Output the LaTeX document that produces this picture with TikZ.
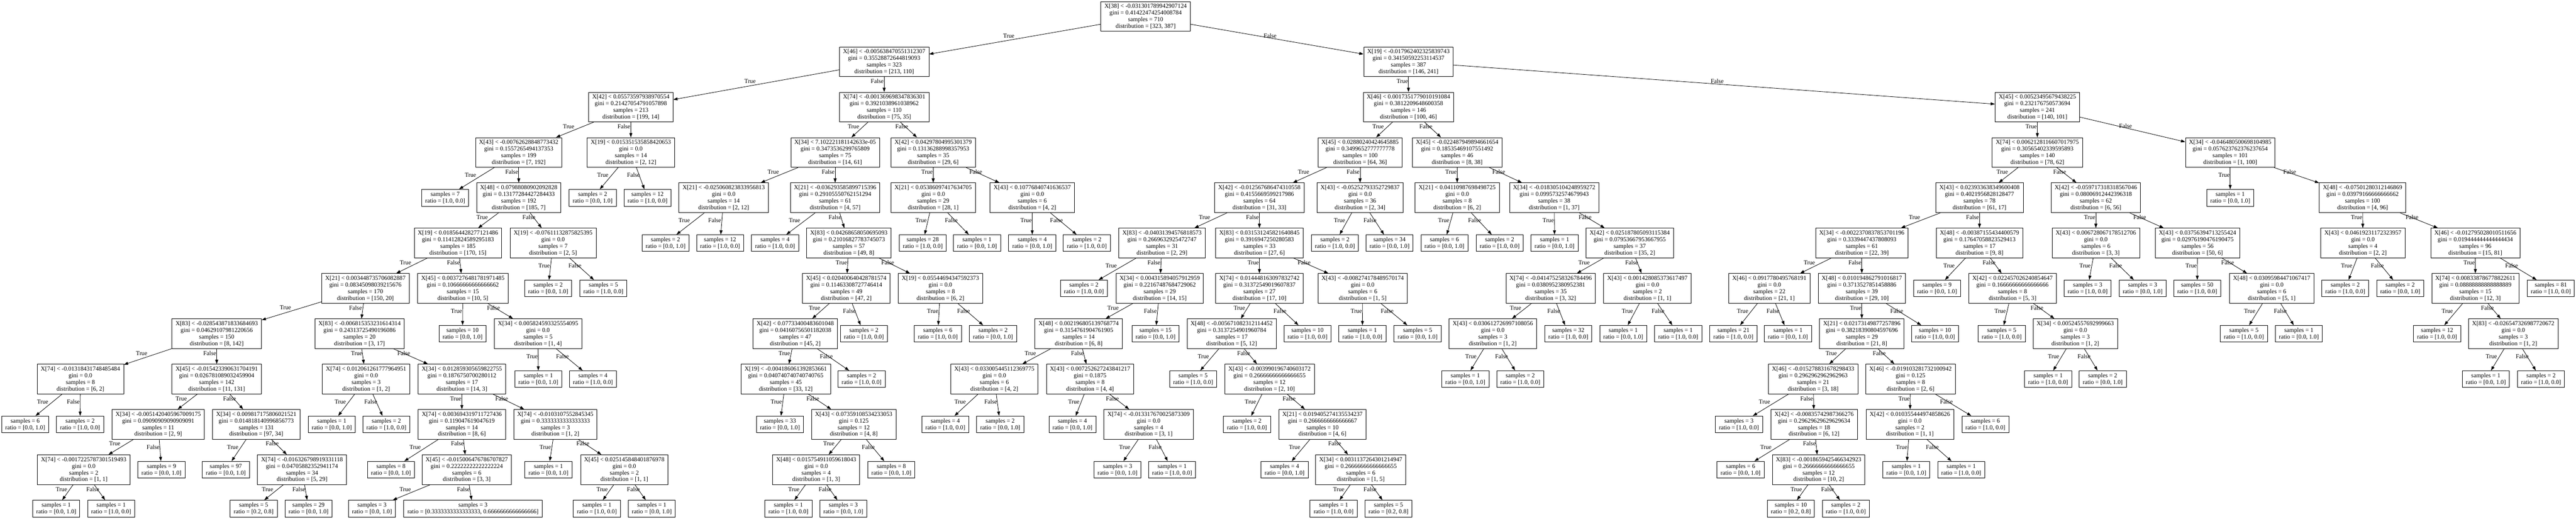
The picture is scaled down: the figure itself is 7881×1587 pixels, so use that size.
\documentclass[tikz,border=0pt]{standalone}
\usepackage{fontspec}
\setmainfont{Liberation Serif}
\usetikzlibrary{arrows.meta}

\begin{document}
\begin{tikzpicture}[x=1pt, y=-1pt,
    font=\fontsize{18.6}{20.3}\selectfont,
    splitnode/.style={rectangle, draw, line width=1.3pt, align=center, inner xsep=11pt, minimum height=91pt},
    leafnode/.style={rectangle, draw, line width=1.3pt, align=center, inner xsep=11pt, minimum height=51pt},
    branch/.style={-{Triangle[length=13pt, width=9pt]}, line width=1.3pt},
    cond/.style={midway, anchor=south east, inner xsep=1pt, inner ysep=3pt}]
    \fill[white] (0,0) rectangle (7881,1587);
    \useasboundingbox (0,0) rectangle (7881,1587);

    % Level 0
    \node[splitnode] (split_0) at (3505,50.5) {X[38] < -0.031301789942907124\\gini = 0.41422474254008784\\samples = 710\\distribution = [323, 387]};

    % Level 1
    \node[splitnode] (split_1) at (2705,189.1) {X[46] < -0.005638470551312307\\gini = 0.35528872644819093\\samples = 323\\distribution = [213, 110]};
    \node[splitnode] (split_2) at (4309,189.1) {X[19] < -0.017962402325839743\\gini = 0.34150592253114537\\samples = 387\\distribution = [146, 241]};

    % Level 2
    \node[splitnode] (split_3) at (1930,327.7) {X[42] < 0.05573597938970554\\gini = 0.21427054791057898\\samples = 213\\distribution = [199, 14]};
    \node[splitnode] (split_4) at (2705,327.7) {X[74] < -0.001369698347836301\\gini = 0.3921038961038962\\samples = 110\\distribution = [75, 35]};
    \node[splitnode] (split_41) at (4309,327.7) {X[46] < 0.0017351779010191084\\gini = 0.3812209648600358\\samples = 146\\distribution = [100, 46]};
    \node[splitnode] (split_42) at (6233,327.7) {X[45] < 0.00523495679438225\\gini = 0.232176750573694\\samples = 241\\distribution = [140, 101]};

    % Level 3
    \node[splitnode] (split_5) at (1587,466.3) {X[43] < -0.00762628848773432\\gini = 0.1557265494137353\\samples = 199\\distribution = [7, 192]};
    \node[splitnode] (split_6) at (1930,466.3) {X[19] < 0.015351535858420653\\gini = 0.0\\samples = 14\\distribution = [2, 12]};
    \node[splitnode] (split_28) at (2555,466.3) {X[34] < 7.102221181142633e-05\\gini = 0.3473536299765809\\samples = 75\\distribution = [14, 61]};
    \node[splitnode] (split_29) at (2855,466.3) {X[42] < 0.04297804995301379\\gini = 0.13136288998357953\\samples = 35\\distribution = [29, 6]};
    \node[splitnode] (split_43) at (4161,466.3) {X[45] < 0.02880240424645885\\gini = 0.3499652777777778\\samples = 100\\distribution = [64, 36]};
    \node[splitnode] (split_44) at (4458,466.3) {X[45] < -0.022487949894661654\\gini = 0.18535469107551492\\samples = 46\\distribution = [8, 38]};
    \node[splitnode] (split_66) at (6233,466.3) {X[74] < 0.0062128116607017975\\gini = 0.30565402339595893\\samples = 140\\distribution = [78, 62]};
    \node[splitnode] (split_67) at (6823,466.3) {X[34] < -0.046480500698104985\\gini = 0.057623762376237654\\samples = 101\\distribution = [1, 100]};

    % Level 4
    \node[leafnode] (leaf_5_t) at (1362,604.9) {samples = 7\\ratio = [1.0, 0.0]};
    \node[splitnode] (split_8) at (1587,604.9) {X[48] < 0.07988080902092828\\gini = 0.13177284427284433\\samples = 192\\distribution = [185, 7]};
    \node[leafnode] (leaf_6_t) at (1813,604.9) {samples = 2\\ratio = [0.0, 1.0]};
    \node[leafnode] (leaf_6_f) at (1981,604.9) {samples = 12\\ratio = [1.0, 0.0]};
    \node[splitnode] (split_30) at (2214,604.9) {X[21] < -0.025060823833956813\\gini = 0.0\\samples = 14\\distribution = [2, 12]};
    \node[splitnode] (split_31) at (2555,604.9) {X[21] < -0.036293585899715396\\gini = 0.29105550762151294\\samples = 61\\distribution = [4, 57]};
    \node[splitnode] (split_32) at (2855,604.9) {X[21] < 0.05386097417634705\\gini = 0.0\\samples = 29\\distribution = [28, 1]};
    \node[splitnode] (split_33) at (3158,604.9) {X[43] < 0.10776840741636537\\gini = 0.0\\samples = 6\\distribution = [4, 2]};
    \node[splitnode] (split_45) at (3853,604.9) {X[42] < -0.012567686474310558\\gini = 0.4155669599217986\\samples = 64\\distribution = [31, 33]};
    \node[splitnode] (split_46) at (4161,604.9) {X[43] < -0.05252793352729837\\gini = 0.0\\samples = 36\\distribution = [2, 34]};
    \node[splitnode] (split_47) at (4458,604.9) {X[21] < 0.04110987698498725\\gini = 0.0\\samples = 8\\distribution = [6, 2]};
    \node[splitnode] (split_48) at (4755,604.9) {X[34] < -0.018305104248959272\\gini = 0.0995732574679943\\samples = 38\\distribution = [1, 37]};
    \node[splitnode] (split_68) at (6056,604.9) {X[43] < 0.023933638349600408\\gini = 0.4021956828128477\\samples = 78\\distribution = [61, 17]};
    \node[splitnode] (split_69) at (6412,604.9) {X[42] < -0.059717318318567046\\gini = 0.08006912442396318\\samples = 62\\distribution = [6, 56]};
    \node[leafnode] (leaf_67_t) at (6823,604.9) {samples = 1\\ratio = [0.0, 1.0]};
    \node[splitnode] (split_70) at (7228,604.9) {X[48] < -0.07501280312146869\\gini = 0.03979166666666662\\samples = 100\\distribution = [4, 96]};

    % Level 5
    \node[splitnode] (split_9) at (1401,743.5) {X[19] < 0.018564428277121486\\gini = 0.11412824589295183\\samples = 185\\distribution = [170, 15]};
    \node[splitnode] (split_10) at (1692,743.5) {X[19] < -0.07611132875825395\\gini = 0.0\\samples = 7\\distribution = [2, 5]};
    \node[leafnode] (leaf_30_t) at (2036,743.5) {samples = 2\\ratio = [0.0, 1.0]};
    \node[leafnode] (leaf_30_f) at (2203,743.5) {samples = 12\\ratio = [1.0, 0.0]};
    \node[leafnode] (leaf_31_t) at (2371,743.5) {samples = 4\\ratio = [1.0, 0.0]};
    \node[splitnode] (split_34) at (2597,743.5) {X[83] < 0.04268658050695093\\gini = 0.21016827783745073\\samples = 57\\distribution = [49, 8]};
    \node[leafnode] (leaf_32_t) at (2823,743.5) {samples = 28\\ratio = [1.0, 0.0]};
    \node[leafnode] (leaf_32_f) at (2989,743.5) {samples = 1\\ratio = [0.0, 1.0]};
    \node[leafnode] (leaf_33_t) at (3158,743.5) {samples = 4\\ratio = [0.0, 1.0]};
    \node[leafnode] (leaf_33_f) at (3325,743.5) {samples = 2\\ratio = [1.0, 0.0]};
    \node[splitnode] (split_49) at (3555,743.5) {X[83] < -0.04031394576818573\\gini = 0.2669632925472747\\samples = 31\\distribution = [2, 29]};
    \node[splitnode] (split_50) at (3853,743.5) {X[83] < 0.031531245821640845\\gini = 0.3916947250280583\\samples = 33\\distribution = [27, 6]};
    \node[leafnode] (leaf_46_t) at (4084,743.5) {samples = 2\\ratio = [1.0, 0.0]};
    \node[leafnode] (leaf_46_f) at (4251,743.5) {samples = 34\\ratio = [0.0, 1.0]};
    \node[leafnode] (leaf_47_t) at (4419,743.5) {samples = 6\\ratio = [0.0, 1.0]};
    \node[leafnode] (leaf_47_f) at (4588,743.5) {samples = 2\\ratio = [1.0, 0.0]};
    \node[leafnode] (leaf_48_t) at (4756,743.5) {samples = 1\\ratio = [0.0, 1.0]};
    \node[splitnode] (split_51) at (4986,743.5) {X[42] < 0.025187805093115384\\gini = 0.07953667953667955\\samples = 37\\distribution = [35, 2]};
    \node[splitnode] (split_71) at (5696,743.5) {X[34] < -0.0022370837853701196\\gini = 0.3339447437808093\\samples = 61\\distribution = [22, 39]};
    \node[splitnode] (split_72) at (6056,743.5) {X[48] < -0.00387155434400579\\gini = 0.17647058823529413\\samples = 17\\distribution = [9, 8]};
    \node[splitnode] (split_73) at (6412,743.5) {X[43] < 0.006728067178512706\\gini = 0.0\\samples = 6\\distribution = [3, 3]};
    \node[splitnode] (split_74) at (6723,743.5) {X[43] < 0.03756394713255424\\gini = 0.02976190476190475\\samples = 56\\distribution = [50, 6]};
    \node[splitnode] (split_75) at (7229,743.5) {X[43] < 0.04619231172323957\\gini = 0.0\\samples = 4\\distribution = [2, 2]};
    \node[splitnode] (split_76) at (7573,743.5) {X[46] < -0.012795028010511656\\gini = 0.019444444444444434\\samples = 96\\distribution = [15, 81]};

    % Level 6
    \node[splitnode] (split_11) at (1118,882.1) {X[21] < 0.003448735706082887\\gini = 0.08345098039215676\\samples = 170\\distribution = [150, 20]};
    \node[splitnode] (split_12) at (1416,882.1) {X[45] < 0.0037276481781971485\\gini = 0.10666666666666662\\samples = 15\\distribution = [10, 5]};
    \node[leafnode] (leaf_10_t) at (1677,882.1) {samples = 2\\ratio = [0.0, 1.0]};
    \node[leafnode] (leaf_10_f) at (1846,882.1) {samples = 5\\ratio = [1.0, 0.0]};
    \node[splitnode] (split_35) at (2589,882.1) {X[45] < 0.020400640428781574\\gini = 0.11463308727746414\\samples = 49\\distribution = [47, 2]};
    \node[splitnode] (split_36) at (2877,882.1) {X[19] < 0.05544694347592373\\gini = 0.0\\samples = 8\\distribution = [6, 2]};
    \node[leafnode] (leaf_49_t) at (3316,882.1) {samples = 2\\ratio = [1.0, 0.0]};
    \node[splitnode] (split_52) at (3548,882.1) {X[34] < 0.004315894057912959\\gini = 0.22167487684729062\\samples = 29\\distribution = [14, 15]};
    \node[splitnode] (split_53) at (3853,882.1) {X[74] < 0.014448163097832742\\gini = 0.31372549019607837\\samples = 27\\distribution = [17, 10]};
    \node[splitnode] (split_54) at (4169,882.1) {X[43] < -0.008274178489570174\\gini = 0.0\\samples = 6\\distribution = [1, 5]};
    \node[splitnode] (split_55) at (4744,882.1) {X[74] < -0.041475258326784496\\gini = 0.0380952380952381\\samples = 35\\distribution = [3, 32]};
    \node[splitnode] (split_56) at (5040,882.1) {X[43] < 0.001428085373617497\\gini = 0.0\\samples = 2\\distribution = [1, 1]};
    \node[splitnode] (split_77) at (5413,882.1) {X[46] < 0.0917780495768191\\gini = 0.0\\samples = 22\\distribution = [21, 1]};
    \node[splitnode] (split_78) at (5696,882.1) {X[48] < 0.010194862791016817\\gini = 0.3713527851458886\\samples = 39\\distribution = [29, 10]};
    \node[leafnode] (leaf_72_t) at (5926,882.1) {samples = 9\\ratio = [0.0, 1.0]};
    \node[splitnode] (split_79) at (6157,882.1) {X[42] < 0.022457026240854647\\gini = 0.16666666666666666\\samples = 8\\distribution = [5, 3]};
    \node[leafnode] (leaf_73_t) at (6387,882.1) {samples = 3\\ratio = [1.0, 0.0]};
    \node[leafnode] (leaf_73_f) at (6555,882.1) {samples = 3\\ratio = [0.0, 1.0]};
    \node[leafnode] (leaf_74_t) at (6722,882.1) {samples = 50\\ratio = [1.0, 0.0]};
    \node[splitnode] (split_80) at (6950,882.1) {X[48] < 0.03095984471067417\\gini = 0.0\\samples = 6\\distribution = [5, 1]};
    \node[leafnode] (leaf_75_t) at (7175,882.1) {samples = 2\\ratio = [1.0, 0.0]};
    \node[leafnode] (leaf_75_f) at (7343,882.1) {samples = 2\\ratio = [0.0, 1.0]};
    \node[splitnode] (split_81) at (7573,882.1) {X[74] < 0.008338786778822611\\gini = 0.08888888888888889\\samples = 15\\distribution = [12, 3]};
    \node[leafnode] (leaf_76_f) at (7804,882.1) {samples = 81\\ratio = [1.0, 0.0]};

    % Level 7
    \node[splitnode] (split_13) at (663,1020.7) {X[83] < -0.028543871833684693\\gini = 0.04629107981220656\\samples = 150\\distribution = [8, 142]};
    \node[splitnode] (split_14) at (1100,1020.7) {X[83] < -0.006815353231614314\\gini = 0.24313725490196086\\samples = 20\\distribution = [3, 17]};
    \node[leafnode] (leaf_12_t) at (1415,1020.7) {samples = 10\\ratio = [0.0, 1.0]};
    \node[splitnode] (split_15) at (1646,1020.7) {X[34] < 0.005824593325554095\\gini = 0.0\\samples = 5\\distribution = [1, 4]};
    \node[splitnode] (split_37) at (2433,1020.7) {X[42] < 0.07733400483601048\\gini = 0.04160756501182038\\samples = 47\\distribution = [45, 2]};
    \node[leafnode] (leaf_35_f) at (2643,1020.7) {samples = 2\\ratio = [1.0, 0.0]};
    \node[leafnode] (leaf_36_t) at (2869,1020.7) {samples = 6\\ratio = [1.0, 0.0]};
    \node[leafnode] (leaf_36_f) at (3038,1020.7) {samples = 2\\ratio = [0.0, 1.0]};
    \node[splitnode] (split_57) at (3300,1020.7) {X[48] < 0.002196805139768774\\gini = 0.3154761904761905\\samples = 14\\distribution = [6, 8]};
    \node[leafnode] (leaf_52_f) at (3535,1020.7) {samples = 15\\ratio = [0.0, 1.0]};
    \node[splitnode] (split_58) at (3768,1020.7) {X[48] < -0.005671082312114452\\gini = 0.3137254901960784\\samples = 17\\distribution = [5, 12]};
    \node[leafnode] (leaf_53_f) at (4000,1020.7) {samples = 10\\ratio = [1.0, 0.0]};
    \node[leafnode] (leaf_54_t) at (4168,1020.7) {samples = 1\\ratio = [1.0, 0.0]};
    \node[leafnode] (leaf_54_f) at (4337,1020.7) {samples = 5\\ratio = [0.0, 1.0]};
    \node[splitnode] (split_59) at (4567,1020.7) {X[43] < 0.030612726997108056\\gini = 0.0\\samples = 3\\distribution = [1, 2]};
    \node[leafnode] (leaf_55_f) at (4798,1020.7) {samples = 32\\ratio = [1.0, 0.0]};
    \node[leafnode] (leaf_56_t) at (4966,1020.7) {samples = 1\\ratio = [0.0, 1.0]};
    \node[leafnode] (leaf_56_f) at (5134,1020.7) {samples = 1\\ratio = [1.0, 0.0]};
    \node[leafnode] (leaf_77_t) at (5303,1020.7) {samples = 21\\ratio = [1.0, 0.0]};
    \node[leafnode] (leaf_77_f) at (5470,1020.7) {samples = 1\\ratio = [0.0, 1.0]};
    \node[splitnode] (split_82) at (5696,1020.7) {X[21] < 0.02173149877257896\\gini = 0.38218390804597696\\samples = 29\\distribution = [21, 8]};
    \node[leafnode] (leaf_78_f) at (5920,1020.7) {samples = 10\\ratio = [1.0, 0.0]};
    \node[leafnode] (leaf_79_t) at (6124,1020.7) {samples = 5\\ratio = [1.0, 0.0]};
    \node[splitnode] (split_83) at (6349,1020.7) {X[34] < 0.00524557692999663\\gini = 0.0\\samples = 3\\distribution = [1, 2]};
    \node[leafnode] (leaf_80_t) at (6865,1020.7) {samples = 5\\ratio = [1.0, 0.0]};
    \node[leafnode] (leaf_80_f) at (7033,1020.7) {samples = 1\\ratio = [0.0, 1.0]};
    \node[leafnode] (leaf_81_t) at (7456,1020.7) {samples = 12\\ratio = [1.0, 0.0]};
    \node[splitnode] (split_84) at (7689,1020.7) {X[83] < -0.026547326987720672\\gini = 0.0\\samples = 3\\distribution = [1, 2]};

    % Level 8
    \node[splitnode] (split_16) at (246,1159.3) {X[74] < -0.01318431748485484\\gini = 0.0\\samples = 8\\distribution = [6, 2]};
    \node[splitnode] (split_17) at (663,1159.3) {X[45] < -0.015423390631704191\\gini = 0.026781089032459904\\samples = 142\\distribution = [11, 131]};
    \node[splitnode] (split_18) at (1120,1159.3) {X[74] < 0.012061261777964951\\gini = 0.0\\samples = 3\\distribution = [1, 2]};
    \node[splitnode] (split_19) at (1413,1159.3) {X[34] < 0.012859305659822755\\gini = 0.1876750700280112\\samples = 17\\distribution = [14, 3]};
    \node[leafnode] (leaf_15_t) at (1647,1159.3) {samples = 1\\ratio = [0.0, 1.0]};
    \node[leafnode] (leaf_15_f) at (1814,1159.3) {samples = 4\\ratio = [1.0, 0.0]};
    \node[splitnode] (split_38) at (2404,1159.3) {X[19] < -0.004186061392853661\\gini = 0.040740740740740765\\samples = 45\\distribution = [33, 12]};
    \node[leafnode] (leaf_37_f) at (2636,1159.3) {samples = 2\\ratio = [1.0, 0.0]};
    \node[splitnode] (split_60) at (3042,1159.3) {X[43] < 0.033005445112369775\\gini = 0.0\\samples = 6\\distribution = [4, 2]};
    \node[splitnode] (split_61) at (3335,1159.3) {X[43] < 0.007252627243841217\\gini = 0.1875\\samples = 8\\distribution = [4, 4]};
    \node[leafnode] (leaf_58_t) at (3650,1159.3) {samples = 5\\ratio = [1.0, 0.0]};
    \node[splitnode] (split_62) at (3884,1159.3) {X[43] < -0.003990196740603172\\gini = 0.26666666666666655\\samples = 12\\distribution = [2, 10]};
    \node[leafnode] (leaf_59_t) at (4483,1159.3) {samples = 1\\ratio = [0.0, 1.0]};
    \node[leafnode] (leaf_59_f) at (4651,1159.3) {samples = 2\\ratio = [1.0, 0.0]};
    \node[splitnode] (split_85) at (5547,1159.3) {X[46] < -0.015278831678298433\\gini = 0.2962962962962963\\samples = 21\\distribution = [3, 18]};
    \node[splitnode] (split_86) at (5845,1159.3) {X[46] < -0.019103281732100942\\gini = 0.125\\samples = 8\\distribution = [2, 6]};
    \node[leafnode] (leaf_83_t) at (6266,1159.3) {samples = 1\\ratio = [1.0, 0.0]};
    \node[leafnode] (leaf_83_f) at (6433,1159.3) {samples = 2\\ratio = [0.0, 1.0]};
    \node[leafnode] (leaf_84_t) at (7605,1159.3) {samples = 1\\ratio = [0.0, 1.0]};
    \node[leafnode] (leaf_84_f) at (7774,1159.3) {samples = 2\\ratio = [1.0, 0.0]};

    % Level 9
    \node[leafnode] (leaf_16_t) at (77,1297.9) {samples = 6\\ratio = [0.0, 1.0]};
    \node[leafnode] (leaf_16_f) at (245,1297.9) {samples = 2\\ratio = [1.0, 0.0]};
    \node[splitnode] (split_20) at (484,1297.9) {X[34] < -0.0051420405967009175\\gini = 0.09090909090909091\\samples = 11\\distribution = [2, 9]};
    \node[splitnode] (split_21) at (784,1297.9) {X[34] < 0.009817175806021521\\gini = 0.014818140996856773\\samples = 131\\distribution = [97, 34]};
    \node[leafnode] (leaf_18_t) at (1015,1297.9) {samples = 1\\ratio = [0.0, 1.0]};
    \node[leafnode] (leaf_18_f) at (1182,1297.9) {samples = 2\\ratio = [1.0, 0.0]};
    \node[splitnode] (split_22) at (1413,1297.9) {X[74] < 0.003694319711727436\\gini = 0.119047619047619\\samples = 14\\distribution = [8, 6]};
    \node[splitnode] (split_23) at (1699,1297.9) {X[74] < -0.0103107552845345\\gini = 0.3333333333333333\\samples = 3\\distribution = [1, 2]};
    \node[leafnode] (leaf_38_t) at (2386,1297.9) {samples = 33\\ratio = [0.0, 1.0]};
    \node[splitnode] (split_39) at (2612,1297.9) {X[43] < 0.07359108534233053\\gini = 0.125\\samples = 12\\distribution = [4, 8]};
    \node[leafnode] (leaf_60_t) at (2892,1297.9) {samples = 4\\ratio = [1.0, 0.0]};
    \node[leafnode] (leaf_60_f) at (3060,1297.9) {samples = 2\\ratio = [0.0, 1.0]};
    \node[leafnode] (leaf_61_t) at (3281,1297.9) {samples = 4\\ratio = [0.0, 1.0]};
    \node[splitnode] (split_63) at (3514,1297.9) {X[74] < -0.013317670025873309\\gini = 0.0\\samples = 4\\distribution = [3, 1]};
    \node[leafnode] (leaf_62_t) at (3815,1297.9) {samples = 2\\ratio = [1.0, 0.0]};
    \node[splitnode] (split_64) at (4046,1297.9) {X[21] < 0.019405274135534237\\gini = 0.2666666666666667\\samples = 10\\distribution = [4, 6]};
    \node[leafnode] (leaf_85_t) at (5320,1297.9) {samples = 3\\ratio = [1.0, 0.0]};
    \node[splitnode] (split_87) at (5550,1297.9) {X[42] < -0.00835742987366276\\gini = 0.29629629629629634\\samples = 18\\distribution = [6, 12]};
    \node[splitnode] (split_88) at (5843,1297.9) {X[42] < 0.010355444974858626\\gini = 0.0\\samples = 2\\distribution = [1, 1]};
    \node[leafnode] (leaf_86_f) at (6074,1297.9) {samples = 6\\ratio = [1.0, 0.0]};

    % Level 10
    \node[splitnode] (split_24) at (256,1436.5) {X[74] < -0.0017225787301519493\\gini = 0.0\\samples = 2\\distribution = [1, 1]};
    \node[leafnode] (leaf_20_f) at (494,1436.5) {samples = 9\\ratio = [0.0, 1.0]};
    \node[leafnode] (leaf_21_t) at (691,1436.5) {samples = 97\\ratio = [0.0, 1.0]};
    \node[splitnode] (split_25) at (924,1436.5) {X[74] < -0.016326798919331118\\gini = 0.04705882352941174\\samples = 34\\distribution = [5, 29]};
    \node[leafnode] (leaf_22_t) at (1196,1436.5) {samples = 8\\ratio = [0.0, 1.0]};
    \node[splitnode] (split_26) at (1428,1436.5) {X[45] < -0.015006476786707827\\gini = 0.22222222222222224\\samples = 6\\distribution = [3, 3]};
    \node[leafnode] (leaf_23_t) at (1678,1436.5) {samples = 1\\ratio = [0.0, 1.0]};
    \node[splitnode] (split_27) at (1910,1436.5) {X[45] < 0.025145848401876978\\gini = 0.0\\samples = 2\\distribution = [1, 1]};
    \node[splitnode] (split_40) at (2497,1436.5) {X[48] < 0.015754911059618043\\gini = 0.0\\samples = 4\\distribution = [1, 3]};
    \node[leafnode] (leaf_39_f) at (2727,1436.5) {samples = 8\\ratio = [0.0, 1.0]};
    \node[leafnode] (leaf_63_t) at (3419,1436.5) {samples = 3\\ratio = [0.0, 1.0]};
    \node[leafnode] (leaf_63_f) at (3586,1436.5) {samples = 1\\ratio = [1.0, 0.0]};
    \node[leafnode] (leaf_64_t) at (3930,1436.5) {samples = 4\\ratio = [0.0, 1.0]};
    \node[splitnode] (split_65) at (4163,1436.5) {X[34] < 0.0031137264301214947\\gini = 0.26666666666666655\\samples = 6\\distribution = [1, 5]};
    \node[leafnode] (leaf_87_t) at (5325,1436.5) {samples = 6\\ratio = [0.0, 1.0]};
    \node[splitnode] (split_89) at (5564,1436.5) {X[83] < -0.0018659425466342923\\gini = 0.26666666666666655\\samples = 12\\distribution = [10, 2]};
    \node[leafnode] (leaf_88_t) at (5832,1436.5) {samples = 1\\ratio = [0.0, 1.0]};
    \node[leafnode] (leaf_88_f) at (6000,1436.5) {samples = 1\\ratio = [1.0, 0.0]};

    % Level 11
    \node[leafnode] (leaf_24_t) at (172,1555.5) {samples = 1\\ratio = [0.0, 1.0]};
    \node[leafnode] (leaf_24_f) at (340,1555.5) {samples = 1\\ratio = [1.0, 0.0]};
    \node[leafnode] (leaf_25_t) at (776,1555.5) {samples = 5\\ratio = [0.2, 0.8]};
    \node[leafnode] (leaf_25_f) at (944,1555.5) {samples = 29\\ratio = [0.0, 1.0]};
    \node[leafnode] (leaf_26_t) at (1138,1555.5) {samples = 3\\ratio = [0.0, 1.0]};
    \node[leafnode] (leaf_26_f) at (1447,1555.5) {samples = 3\\ratio = [0.3333333333333333, 0.6666666666666666]};
    \node[leafnode] (leaf_27_t) at (1826,1555.5) {samples = 1\\ratio = [1.0, 0.0]};
    \node[leafnode] (leaf_27_f) at (1994,1555.5) {samples = 1\\ratio = [0.0, 1.0]};
    \node[leafnode] (leaf_40_t) at (2412,1555.5) {samples = 1\\ratio = [1.0, 0.0]};
    \node[leafnode] (leaf_40_f) at (2580,1555.5) {samples = 3\\ratio = [0.0, 1.0]};
    \node[leafnode] (leaf_65_t) at (4080,1555.5) {samples = 1\\ratio = [1.0, 0.0]};
    \node[leafnode] (leaf_65_f) at (4248,1555.5) {samples = 5\\ratio = [0.2, 0.8]};
    \node[leafnode] (leaf_89_t) at (5479,1555.5) {samples = 10\\ratio = [0.2, 0.8]};
    \node[leafnode] (leaf_89_f) at (5647,1555.5) {samples = 2\\ratio = [1.0, 0.0]};

    % Branches
    \draw[branch] (split_0) -- (split_1) node[cond] {True}; \draw[branch] (split_0) -- (split_2) node[cond] {False};
    \draw[branch] (split_1) -- (split_3) node[cond] {True}; \draw[branch] (split_1) -- (split_4) node[cond] {False};
    \draw[branch] (split_2) -- (split_41) node[cond] {True}; \draw[branch] (split_2) -- (split_42) node[cond] {False};
    \draw[branch] (split_3) -- (split_5) node[cond] {True}; \draw[branch] (split_3) -- (split_6) node[cond] {False};
    \draw[branch] (split_4) -- (split_28) node[cond] {True}; \draw[branch] (split_4) -- (split_29) node[cond] {False};
    \draw[branch] (split_5) -- (leaf_5_t) node[cond] {True}; \draw[branch] (split_5) -- (split_8) node[cond] {False};
    \draw[branch] (split_6) -- (leaf_6_t) node[cond] {True}; \draw[branch] (split_6) -- (leaf_6_f) node[cond] {False};
    \draw[branch] (split_8) -- (split_9) node[cond] {True}; \draw[branch] (split_8) -- (split_10) node[cond] {False};
    \draw[branch] (split_9) -- (split_11) node[cond] {True}; \draw[branch] (split_9) -- (split_12) node[cond] {False};
    \draw[branch] (split_10) -- (leaf_10_t) node[cond] {True}; \draw[branch] (split_10) -- (leaf_10_f) node[cond] {False};
    \draw[branch] (split_11) -- (split_13) node[cond] {True}; \draw[branch] (split_11) -- (split_14) node[cond] {False};
    \draw[branch] (split_12) -- (leaf_12_t) node[cond] {True}; \draw[branch] (split_12) -- (split_15) node[cond] {False};
    \draw[branch] (split_13) -- (split_16) node[cond] {True}; \draw[branch] (split_13) -- (split_17) node[cond] {False};
    \draw[branch] (split_14) -- (split_18) node[cond] {True}; \draw[branch] (split_14) -- (split_19) node[cond] {False};
    \draw[branch] (split_15) -- (leaf_15_t) node[cond] {True}; \draw[branch] (split_15) -- (leaf_15_f) node[cond] {False};
    \draw[branch] (split_16) -- (leaf_16_t) node[cond] {True}; \draw[branch] (split_16) -- (leaf_16_f) node[cond] {False};
    \draw[branch] (split_17) -- (split_20) node[cond] {True}; \draw[branch] (split_17) -- (split_21) node[cond] {False};
    \draw[branch] (split_18) -- (leaf_18_t) node[cond] {True}; \draw[branch] (split_18) -- (leaf_18_f) node[cond] {False};
    \draw[branch] (split_19) -- (split_22) node[cond] {True}; \draw[branch] (split_19) -- (split_23) node[cond] {False};
    \draw[branch] (split_20) -- (split_24) node[cond] {True}; \draw[branch] (split_20) -- (leaf_20_f) node[cond] {False};
    \draw[branch] (split_21) -- (leaf_21_t) node[cond] {True}; \draw[branch] (split_21) -- (split_25) node[cond] {False};
    \draw[branch] (split_22) -- (leaf_22_t) node[cond] {True}; \draw[branch] (split_22) -- (split_26) node[cond] {False};
    \draw[branch] (split_23) -- (leaf_23_t) node[cond] {True}; \draw[branch] (split_23) -- (split_27) node[cond] {False};
    \draw[branch] (split_24) -- (leaf_24_t) node[cond] {True}; \draw[branch] (split_24) -- (leaf_24_f) node[cond] {False};
    \draw[branch] (split_25) -- (leaf_25_t) node[cond] {True}; \draw[branch] (split_25) -- (leaf_25_f) node[cond] {False};
    \draw[branch] (split_26) -- (leaf_26_t) node[cond] {True}; \draw[branch] (split_26) -- (leaf_26_f) node[cond] {False};
    \draw[branch] (split_27) -- (leaf_27_t) node[cond] {True}; \draw[branch] (split_27) -- (leaf_27_f) node[cond] {False};
    \draw[branch] (split_28) -- (split_30) node[cond] {True}; \draw[branch] (split_28) -- (split_31) node[cond] {False};
    \draw[branch] (split_29) -- (split_32) node[cond] {True}; \draw[branch] (split_29) -- (split_33) node[cond] {False};
    \draw[branch] (split_30) -- (leaf_30_t) node[cond] {True}; \draw[branch] (split_30) -- (leaf_30_f) node[cond] {False};
    \draw[branch] (split_31) -- (leaf_31_t) node[cond] {True}; \draw[branch] (split_31) -- (split_34) node[cond] {False};
    \draw[branch] (split_32) -- (leaf_32_t) node[cond] {True}; \draw[branch] (split_32) -- (leaf_32_f) node[cond] {False};
    \draw[branch] (split_33) -- (leaf_33_t) node[cond] {True}; \draw[branch] (split_33) -- (leaf_33_f) node[cond] {False};
    \draw[branch] (split_34) -- (split_35) node[cond] {True}; \draw[branch] (split_34) -- (split_36) node[cond] {False};
    \draw[branch] (split_35) -- (split_37) node[cond] {True}; \draw[branch] (split_35) -- (leaf_35_f) node[cond] {False};
    \draw[branch] (split_36) -- (leaf_36_t) node[cond] {True}; \draw[branch] (split_36) -- (leaf_36_f) node[cond] {False};
    \draw[branch] (split_37) -- (split_38) node[cond] {True}; \draw[branch] (split_37) -- (leaf_37_f) node[cond] {False};
    \draw[branch] (split_38) -- (leaf_38_t) node[cond] {True}; \draw[branch] (split_38) -- (split_39) node[cond] {False};
    \draw[branch] (split_39) -- (split_40) node[cond] {True}; \draw[branch] (split_39) -- (leaf_39_f) node[cond] {False};
    \draw[branch] (split_40) -- (leaf_40_t) node[cond] {True}; \draw[branch] (split_40) -- (leaf_40_f) node[cond] {False};
    \draw[branch] (split_41) -- (split_43) node[cond] {True}; \draw[branch] (split_41) -- (split_44) node[cond] {False};
    \draw[branch] (split_42) -- (split_66) node[cond] {True}; \draw[branch] (split_42) -- (split_67) node[cond] {False};
    \draw[branch] (split_43) -- (split_45) node[cond] {True}; \draw[branch] (split_43) -- (split_46) node[cond] {False};
    \draw[branch] (split_44) -- (split_47) node[cond] {True}; \draw[branch] (split_44) -- (split_48) node[cond] {False};
    \draw[branch] (split_45) -- (split_49) node[cond] {True}; \draw[branch] (split_45) -- (split_50) node[cond] {False};
    \draw[branch] (split_46) -- (leaf_46_t) node[cond] {True}; \draw[branch] (split_46) -- (leaf_46_f) node[cond] {False};
    \draw[branch] (split_47) -- (leaf_47_t) node[cond] {True}; \draw[branch] (split_47) -- (leaf_47_f) node[cond] {False};
    \draw[branch] (split_48) -- (leaf_48_t) node[cond] {True}; \draw[branch] (split_48) -- (split_51) node[cond] {False};
    \draw[branch] (split_49) -- (leaf_49_t) node[cond] {True}; \draw[branch] (split_49) -- (split_52) node[cond] {False};
    \draw[branch] (split_50) -- (split_53) node[cond] {True}; \draw[branch] (split_50) -- (split_54) node[cond] {False};
    \draw[branch] (split_51) -- (split_55) node[cond] {True}; \draw[branch] (split_51) -- (split_56) node[cond] {False};
    \draw[branch] (split_52) -- (split_57) node[cond] {True}; \draw[branch] (split_52) -- (leaf_52_f) node[cond] {False};
    \draw[branch] (split_53) -- (split_58) node[cond] {True}; \draw[branch] (split_53) -- (leaf_53_f) node[cond] {False};
    \draw[branch] (split_54) -- (leaf_54_t) node[cond] {True}; \draw[branch] (split_54) -- (leaf_54_f) node[cond] {False};
    \draw[branch] (split_55) -- (split_59) node[cond] {True}; \draw[branch] (split_55) -- (leaf_55_f) node[cond] {False};
    \draw[branch] (split_56) -- (leaf_56_t) node[cond] {True}; \draw[branch] (split_56) -- (leaf_56_f) node[cond] {False};
    \draw[branch] (split_57) -- (split_60) node[cond] {True}; \draw[branch] (split_57) -- (split_61) node[cond] {False};
    \draw[branch] (split_58) -- (leaf_58_t) node[cond] {True}; \draw[branch] (split_58) -- (split_62) node[cond] {False};
    \draw[branch] (split_59) -- (leaf_59_t) node[cond] {True}; \draw[branch] (split_59) -- (leaf_59_f) node[cond] {False};
    \draw[branch] (split_60) -- (leaf_60_t) node[cond] {True}; \draw[branch] (split_60) -- (leaf_60_f) node[cond] {False};
    \draw[branch] (split_61) -- (leaf_61_t) node[cond] {True}; \draw[branch] (split_61) -- (split_63) node[cond] {False};
    \draw[branch] (split_62) -- (leaf_62_t) node[cond] {True}; \draw[branch] (split_62) -- (split_64) node[cond] {False};
    \draw[branch] (split_63) -- (leaf_63_t) node[cond] {True}; \draw[branch] (split_63) -- (leaf_63_f) node[cond] {False};
    \draw[branch] (split_64) -- (leaf_64_t) node[cond] {True}; \draw[branch] (split_64) -- (split_65) node[cond] {False};
    \draw[branch] (split_65) -- (leaf_65_t) node[cond] {True}; \draw[branch] (split_65) -- (leaf_65_f) node[cond] {False};
    \draw[branch] (split_66) -- (split_68) node[cond] {True}; \draw[branch] (split_66) -- (split_69) node[cond] {False};
    \draw[branch] (split_67) -- (leaf_67_t) node[cond] {True}; \draw[branch] (split_67) -- (split_70) node[cond] {False};
    \draw[branch] (split_68) -- (split_71) node[cond] {True}; \draw[branch] (split_68) -- (split_72) node[cond] {False};
    \draw[branch] (split_69) -- (split_73) node[cond] {True}; \draw[branch] (split_69) -- (split_74) node[cond] {False};
    \draw[branch] (split_70) -- (split_75) node[cond] {True}; \draw[branch] (split_70) -- (split_76) node[cond] {False};
    \draw[branch] (split_71) -- (split_77) node[cond] {True}; \draw[branch] (split_71) -- (split_78) node[cond] {False};
    \draw[branch] (split_72) -- (leaf_72_t) node[cond] {True}; \draw[branch] (split_72) -- (split_79) node[cond] {False};
    \draw[branch] (split_73) -- (leaf_73_t) node[cond] {True}; \draw[branch] (split_73) -- (leaf_73_f) node[cond] {False};
    \draw[branch] (split_74) -- (leaf_74_t) node[cond] {True}; \draw[branch] (split_74) -- (split_80) node[cond] {False};
    \draw[branch] (split_75) -- (leaf_75_t) node[cond] {True}; \draw[branch] (split_75) -- (leaf_75_f) node[cond] {False};
    \draw[branch] (split_76) -- (split_81) node[cond] {True}; \draw[branch] (split_76) -- (leaf_76_f) node[cond] {False};
    \draw[branch] (split_77) -- (leaf_77_t) node[cond] {True}; \draw[branch] (split_77) -- (leaf_77_f) node[cond] {False};
    \draw[branch] (split_78) -- (split_82) node[cond] {True}; \draw[branch] (split_78) -- (leaf_78_f) node[cond] {False};
    \draw[branch] (split_79) -- (leaf_79_t) node[cond] {True}; \draw[branch] (split_79) -- (split_83) node[cond] {False};
    \draw[branch] (split_80) -- (leaf_80_t) node[cond] {True}; \draw[branch] (split_80) -- (leaf_80_f) node[cond] {False};
    \draw[branch] (split_81) -- (leaf_81_t) node[cond] {True}; \draw[branch] (split_81) -- (split_84) node[cond] {False};
    \draw[branch] (split_82) -- (split_85) node[cond] {True}; \draw[branch] (split_82) -- (split_86) node[cond] {False};
    \draw[branch] (split_83) -- (leaf_83_t) node[cond] {True}; \draw[branch] (split_83) -- (leaf_83_f) node[cond] {False};
    \draw[branch] (split_84) -- (leaf_84_t) node[cond] {True}; \draw[branch] (split_84) -- (leaf_84_f) node[cond] {False};
    \draw[branch] (split_85) -- (leaf_85_t) node[cond] {True}; \draw[branch] (split_85) -- (split_87) node[cond] {False};
    \draw[branch] (split_86) -- (split_88) node[cond] {True}; \draw[branch] (split_86) -- (leaf_86_f) node[cond] {False};
    \draw[branch] (split_87) -- (leaf_87_t) node[cond] {True}; \draw[branch] (split_87) -- (split_89) node[cond] {False};
    \draw[branch] (split_88) -- (leaf_88_t) node[cond] {True}; \draw[branch] (split_88) -- (leaf_88_f) node[cond] {False};
    \draw[branch] (split_89) -- (leaf_89_t) node[cond] {True}; \draw[branch] (split_89) -- (leaf_89_f) node[cond] {False};
\end{tikzpicture}
\end{document}
